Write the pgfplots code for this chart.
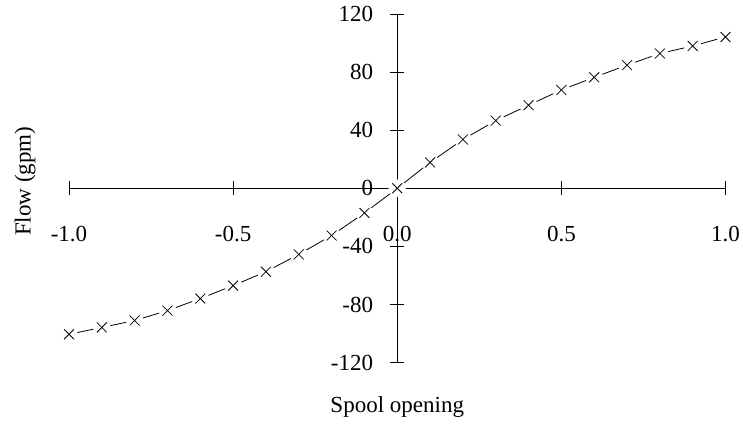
\documentclass[border=0pt]{standalone}
\usepackage{pgfplots}
\pgfplotsset{compat=1.18}
\usepackage{fontspec}
\setmainfont{Liberation Serif}
\begin{document}
\fontsize{23bp}{27bp}\selectfont
\begin{tikzpicture}
\useasboundingbox (-69bp,-63.4bp) rectangle (674bp,362.6bp);
\begin{axis}[
  at={(0,0)}, anchor=south west,
  width=656.5bp, height=348.6bp, scale only axis,
  xmin=-1, xmax=1, ymin=-120, ymax=120,
  axis lines=middle,
  axis line style={-, line width=0.8bp, black},
  clip=false,
  xtick={-1,-0.5,0,0.5,1},
  xticklabels={-1.0,-0.5,0.0,0.5,1.0},
  ytick={-120,-80,-40,0,40,80,120},
  yticklabels={-120,-80,-40,0,40,80,120},
  hide obscured x ticks=false, hide obscured y ticks=false,
  tick align=center,
  major tick length=14bp,
  tick style={line width=0.8bp, black},
  xticklabel style={anchor=center, inner sep=0pt, yshift=-39bp},
  yticklabel style={anchor=east, inner sep=0pt, xshift=-17bp},
  xlabel={Spool opening},
  ylabel={Flow (gpm)},
  xlabel style={at={(axis description cs:0.5,-0.1285)}, anchor=center, inner sep=0pt},
  ylabel style={at={(axis description cs:-0.067,0.52)}, anchor=center, rotate=90, inner sep=0pt},
]
\pgfplotstableread{
x y
-1.0 -100.5
-0.9 -95.8
-0.8 -91
-0.7 -84.2
-0.6 -75.9
-0.5 -67
-0.4 -57.4
-0.3 -45.5
-0.2 -32.5
-0.1 -17
0.0 0
0.1 17.8
0.2 33.6
0.3 46.6
0.4 57.2
0.5 67.7
0.6 76.4
0.7 84.8
0.8 92.8
0.9 98
1.0 104.2
}\datatab
\addplot[black, line width=0.8bp, no marks] table[x=x,y=y] {\datatab};
\addplot[white, only marks, mark=*, mark size=8.5bp, mark options={fill=white, draw=white}] table[x=x,y=y] {\datatab};
\addplot[black, only marks, mark=x, mark size=7bp, mark options={black, line width=0.8bp}] table[x=x,y=y] {\datatab};
\end{axis}
\end{tikzpicture}
\end{document}
